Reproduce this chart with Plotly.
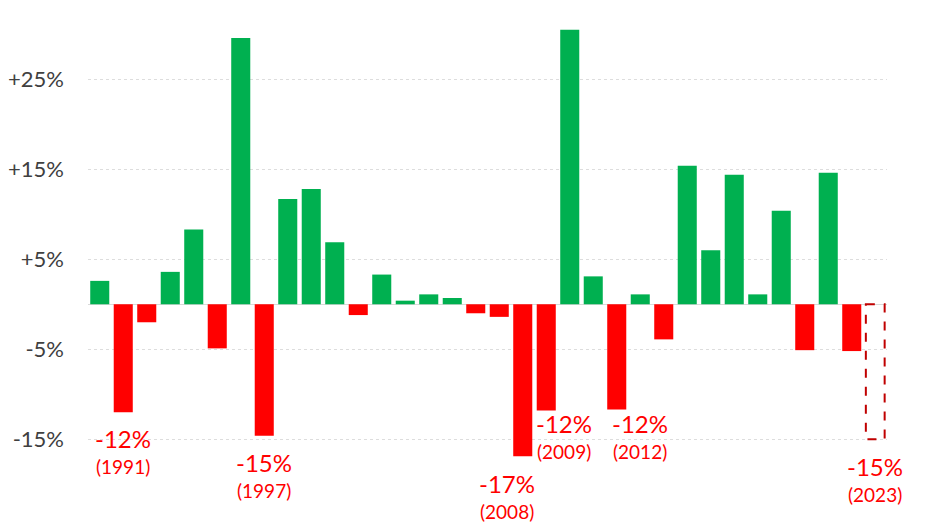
import plotly.graph_objects as go

# Yearly change, 1990-2023 (2023 is the projected / dashed bar)
years = list(range(1990, 2024))
changes = [2.6, -12.0, -2.0, 3.6, 8.3, -4.9, 29.6, -14.6, 11.7, 12.8,
           6.9, -1.2, 3.3, 0.4, 1.1, 0.7, -1.0, -1.4, -16.9, -11.8,
           30.5, 3.1, -11.7, 1.1, -3.9, 15.4, 6.0, 14.4, 1.1, 10.4,
           -5.1, 14.6, -5.2, -15.0]

# Labelled drawdown years
label_years = [1991, 1997, 2008, 2009, 2012, 2023]
label_text = ["-12%", "-15%", "-17%", "-12%", "-12%", "-15%"]

tick_vals = [25, 15, 5, -5, -15, -25]
tick_text = ["+25%", "+15%", "+5%", "-5%", "-15%", "-25%"]

GREEN = "#00B050"
RED = "#FF0000"
DARK_RED = "#C00000"

hist_years = years[:-1]
hist_vals = changes[:-1]
colors = [GREEN if v >= 0 else RED for v in hist_vals]

fig = go.Figure()
fig.add_trace(go.Bar(x=hist_years, y=hist_vals, marker_color=colors,
                     marker_line_width=0, hoverinfo="x+y"))

# projected year: dashed outline only
fig.add_shape(type="rect", xref="x", yref="y",
              x0=years[-1] - 0.4, x1=years[-1] + 0.4, y0=0, y1=changes[-1],
              line=dict(color=DARK_RED, width=2, dash="dash"),
              fillcolor="rgba(0,0,0,0)")

# label placement tweaks (pixels)
xshifts = {1991: 0, 1997: 0, 2008: -16, 2009: 18, 2012: 23, 2023: 0}
yshifts = {1991: -26, 1997: -27, 2008: -27, 2009: -13, 2012: -14, 2023: -27}

for yr, txt in zip(label_years, label_text):
    val = changes[years.index(yr)]
    fig.add_annotation(x=yr, y=val, text=txt, showarrow=False,
                       xshift=xshifts[yr], yshift=yshifts[yr],
                       yanchor="middle",
                       font=dict(family="Lato", size=24, color=RED))
    fig.add_annotation(x=yr, y=val, text="(%d)" % yr, showarrow=False,
                       xshift=xshifts[yr], yshift=yshifts[yr] - 28,
                       yanchor="middle",
                       font=dict(family="Lato", size=19, color=RED))

# page body has an 8px margin, so the figure is offset slightly
fig.update_layout(
    width=941, height=529,
    margin=dict(l=80, r=62, t=0, b=0, autoexpand=False),
    plot_bgcolor="white", paper_bgcolor="white",
    showlegend=False, bargap=0.19,
    font=dict(family="Lato", color="#404040"),
)
fig.update_xaxes(range=[1989.5, 2023.5], showticklabels=False,
                 showgrid=False, zeroline=False, showline=False,
                 automargin=False)
fig.update_yaxes(range=[-25.86, 32.92], tickvals=tick_vals, ticktext=tick_text,
                 tickfont=dict(size=22, color="#404040"),
                 ticklabelstandoff=23, automargin=False,
                 showgrid=True, gridcolor="#DDDDDD", griddash="dot",
                 gridwidth=1, zeroline=True, zerolinecolor="#D9D9D9",
                 zerolinewidth=1, showline=False)

fig.write_html("out.html")
